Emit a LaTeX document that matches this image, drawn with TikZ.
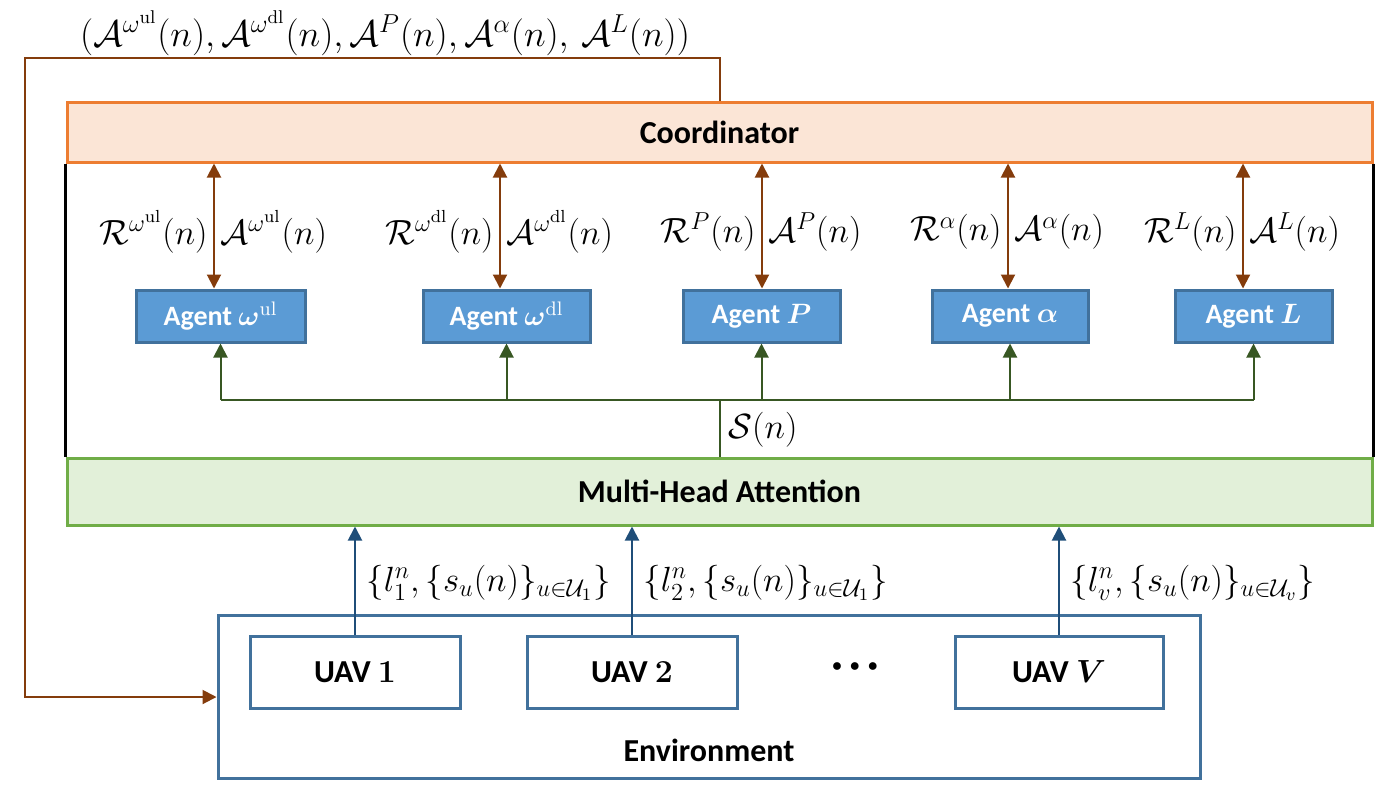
\RequirePackage{fix-cm}
\documentclass[tikz,border=0pt]{standalone}
\usepackage{amsmath,amssymb,bm}
\usepackage[no-math]{fontspec}
\setmainfont{Carlito}
\usetikzlibrary{arrows.meta}
\definecolor{orangeB}{HTML}{ED7D31}
\definecolor{orangeF}{HTML}{FBE5D6}
\definecolor{greenB}{HTML}{70AD47}
\definecolor{greenF}{HTML}{E2F0D9}
\definecolor{blueF}{HTML}{5B9BD5}
\definecolor{blueB}{HTML}{41719C}
\definecolor{brownA}{HTML}{843C0C}
\definecolor{greenA}{HTML}{385723}
\definecolor{blueA}{HTML}{1F4E79}
\begin{document}
\begin{tikzpicture}[x=0.5pt,y=-0.5pt,
  widebox/.style={draw, line width=1.5pt, minimum width=652.5pt, inner sep=0pt,
    font=\fontsize{16}{19}\selectfont\bfseries},
  agentbox/.style={draw=blueB, fill=blueF, line width=1.5pt, minimum height=26pt, inner sep=0pt,
    text=white, font=\fontsize{14}{17}\selectfont\bfseries},
  uavbox/.style={draw=blueB, line width=1.5pt, minimum width=105pt, minimum height=36pt, inner sep=0pt,
    font=\fontsize{16}{19}\selectfont\bfseries},
  mlabel/.style={inner sep=0pt, font=\fontsize{17.5}{21}\selectfont},
  brownarrow/.style={draw=brownA, line width=1pt, {Triangle[length=7pt, width=7pt]}-{Triangle[length=7pt, width=7pt]}},
  greenarrow/.style={draw=greenA, line width=1pt, -{Triangle[length=7pt, width=7pt]}},
  bluearrow/.style={draw=blueA, line width=1pt, -{Triangle[length=7pt, width=7pt]}},
  greenline/.style={draw=greenA, line width=1pt},
]
\useasboundingbox (0,0) rectangle (1397,805);

% main boxes
\node[widebox, draw=orangeB, fill=orangeF, minimum height=30pt] (coord) at (719.5,132) {Coordinator};
\node[widebox, draw=greenB, fill=greenF, minimum height=33.5pt] (mha) at (719.5,491.5) {Multi-Head Attention};
\draw[line width=1.2pt] (coord.south west) -- (mha.north west);
\draw[line width=1.2pt] (coord.south east) -- (mha.north east);

% agents
\node[agentbox, minimum width=84.5pt] (a1) at (220.5,316) {Agent $\bm{\omega}^{\mathrm{ul}}$};
\node[agentbox, minimum width=83.5pt] (a2) at (506.5,316) {Agent $\bm{\omega}^{\mathrm{dl}}$};
\node[agentbox, minimum width=78.5pt] (a3) at (761.5,316) {Agent $\bm{P}$};
\node[agentbox, minimum width=78pt] (a4) at (1010,316) {Agent $\bm{\alpha}$};
\node[agentbox, minimum width=78.5pt] (a5) at (1253.5,316) {Agent $\bm{L}$};

% coordinator <-> agent arrows
\coordinate (b1) at (214,0);
\coordinate (b2) at (500,0);
\coordinate (b3) at (762,0);
\coordinate (b4) at (1008,0);
\coordinate (b5) at (1243,0);
\foreach \i in {1,...,5}{
  \draw[brownarrow] (coord.south -| b\i) -- (a\i.north -| b\i);
}
\node[mlabel, anchor=east] (r1) at (208,232) {$\mathcal{R}^{\omega^{\mathrm{ul}}}(n)$};
\node[mlabel, anchor=west] (q1) at (220,232) {$\mathcal{A}^{\omega^{\mathrm{ul}}}(n)$};
\node[mlabel, anchor=east] (r2) at (494,232) {$\mathcal{R}^{\omega^{\mathrm{dl}}}(n)$};
\node[mlabel, anchor=west] (q2) at (506,232) {$\mathcal{A}^{\omega^{\mathrm{dl}}}(n)$};
\node[mlabel, anchor=east] (r3) at (756,232) {$\mathcal{R}^{P}(n)$};
\node[mlabel, anchor=west] (q3) at (768,232) {$\mathcal{A}^{P}(n)$};
\node[mlabel, anchor=east] (r4) at (1002,232) {$\mathcal{R}^{\alpha}(n)$};
\node[mlabel, anchor=west] (q4) at (1014,232) {$\mathcal{A}^{\alpha}(n)$};
\node[mlabel, anchor=east] (r5) at (1237,232) {$\mathcal{R}^{L}(n)$};
\node[mlabel, anchor=west] (q5) at (1249,232) {$\mathcal{A}^{L}(n)$};

% state distribution
\coordinate (s0) at (720,400);
\draw[greenline] (mha.north -| s0) -- (s0);
\draw[greenline] (a1.south |- s0) -- (a5.south |- s0);
\foreach \i in {1,...,5}{
  \draw[greenarrow] (a\i.south |- s0) -- (a\i.south);
}
\node[mlabel, anchor=west] (sn) at (728,430) {$\mathcal{S}(n)$};

% environment
\node[draw=blueB, line width=1.5pt, minimum width=491pt, minimum height=81.5pt, inner sep=0pt] (env) at (709,696.5) {};
\node[font=\fontsize{16}{19}\selectfont\bfseries, inner sep=0pt] (envlabel) at (709,750) {Environment};
\node[uavbox] (u1) at (355,672) {UAV $\bm{1}$};
\node[uavbox] (u2) at (632,672) {UAV $\bm{2}$};
\node[uavbox, minimum width=104pt] (u3) at (1059,672) {UAV $\bm{V}$};
\node[font=\fontsize{10}{12}\selectfont, inner sep=0pt] (dots) at (855,667) {$\bullet\,\bullet\,\bullet$};

\draw[bluearrow] (u1.north) -- (mha.south -| u1.north);
\draw[bluearrow] (u2.north) -- (mha.south -| u2.north);
\draw[bluearrow] (u3.north) -- (mha.south -| u3.north);
\node[mlabel, anchor=west] (o1) at (366,583) {$\{l_1^n,\{s_u(n)\}_{u\in\mathcal{U}_1}\}$};
\node[mlabel, anchor=west] (o2) at (643,583) {$\{l_2^n,\{s_u(n)\}_{u\in\mathcal{U}_1}\}$};
\node[mlabel, anchor=west] (o3) at (1070,583) {$\{l_v^n,\{s_u(n)\}_{u\in\mathcal{U}_v}\}$};

% feedback loop
\node[inner sep=0pt, font=\fontsize{18.5}{22}\selectfont] (act) at (385,33) {$(\mathcal{A}^{\omega^{\mathrm{ul}}}(n),\mathcal{A}^{\omega^{\mathrm{dl}}}(n),\mathcal{A}^{P}(n),\mathcal{A}^{\alpha}(n),\,\mathcal{A}^{L}(n))$};
\coordinate (f1) at (720,58);
\coordinate (f2) at (25,697);
\draw[draw=brownA, line width=1pt, -{Triangle[length=7pt, width=7pt]}]
  (coord.north -| f1) -- (f1) -| (f2) -- (env.west |- f2);
\end{tikzpicture}
\end{document}
